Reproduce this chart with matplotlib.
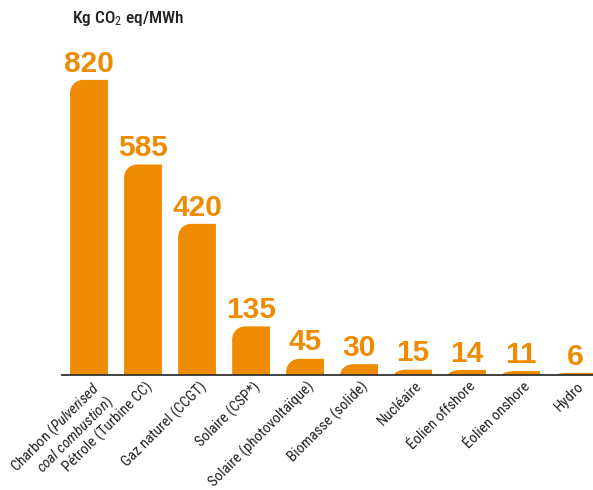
import numpy as np
import matplotlib.pyplot as plt
from matplotlib.path import Path
from matplotlib.patches import PathPatch
from matplotlib import font_manager
from matplotlib.transforms import ScaledTranslation, blended_transform_factory

# === Données ===
sources = [
    r"Charbon $\mathit{(Pulverised}$" + "\n" + r"$\mathit{coal\ combustion)}$",
    "Pétrole (Turbine CC)",
    "Gaz naturel (CCGT)",
    "Solaire (CSP*)",
    "Solaire (photovoltaïque)",
    "Biomasse (solide)",
    "Nucléaire",
    "Éolien offshore",
    "Éolien onshore",
    "Hydro",
]
emissions = [820, 585, 420, 135, 45, 30, 15, 14, 11, 6]

orange = '#EE8B00'
names = sorted({f.name for f in font_manager.fontManager.ttflist})
narrow = next(n for n in ['Liberation Sans Narrow', 'Roboto Condensed', 'Open Sans Condensed',
                          'Roboto', 'Liberation Sans', 'DejaVu Sans'] if n in names)
plt.rcParams['mathtext.fontset'] = 'custom'
plt.rcParams['mathtext.it'] = narrow + ':italic'
plt.rcParams['mathtext.rm'] = narrow

fig = plt.figure(figsize=(5.93, 4.90), dpi=100)
ax = fig.add_axes([62 / 593, 115 / 490, 531 / 593, 375 / 490])
ax.set_xlim(-0.5, 9.33)
ax.set_ylim(0, 1042)

# === Barres avec coin supérieur gauche arrondi ===
width = 0.7
rx, ry = 0.24, 36
k = 0.5523
for i, h in enumerate(emissions):
    x0, x1 = i - width / 2, i + width / 2
    r_y = min(ry, h)
    verts = [(x0, 0), (x1, 0), (x1, h), (x0 + rx, h),
             (x0 + rx - k * rx, h), (x0, h - r_y + k * r_y), (x0, h - r_y),
             (x0, 0)]
    codes = [Path.MOVETO, Path.LINETO, Path.LINETO, Path.LINETO,
             Path.CURVE4, Path.CURVE4, Path.CURVE4, Path.CLOSEPOLY]
    ax.add_patch(PathPatch(Path(verts, codes), facecolor=orange, edgecolor='none'))
    ax.annotate(str(h), (i, h), xytext=(0, 6), textcoords='offset points',
                ha='center', va='baseline', color=orange, fontsize=21.5,
                fontweight='bold', family='Liberation Sans')

# === Axe ===
for s in ['top', 'right', 'left']:
    ax.spines[s].set_visible(False)
ax.spines['bottom'].set_color('#333333')
ax.spines['bottom'].set_linewidth(1.3)
ax.set_yticks([])
ax.set_xticks([])

trans = blended_transform_factory(ax.transData, ax.transAxes)
for i, lab in enumerate(sources):
    ax.text(i + 0.03, 0, lab, transform=trans + ScaledTranslation(0, -4 / 100, fig.dpi_scale_trans),
            rotation=45, rotation_mode='anchor', ha='right', va='top',
            fontsize=10.7, family=narrow, color='#222222', linespacing=1.05)

fig.text(72 / 593, 1 - 19 / 490, r"Kg CO$_2$ eq/MWh", fontsize=12.5, family=narrow,
         fontweight='medium', color='#222222', va='center')

fig.savefig('out.png', dpi=100)
